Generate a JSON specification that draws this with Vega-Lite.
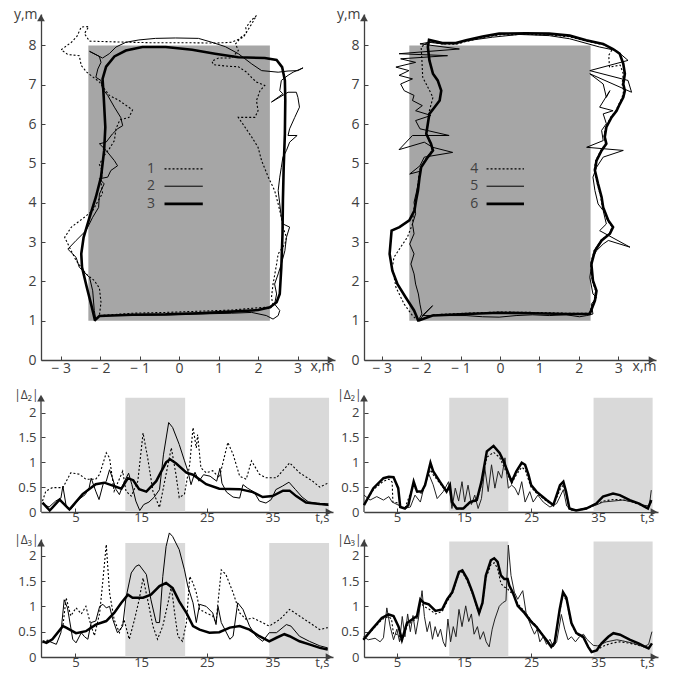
{
"$schema":"https://vega.github.io/schema/vega-lite/v6.json",
"padding":{"left":13,"top":7,"right":5,"bottom":5},
"background":"white",
"config":{"view":{"stroke":null},"font":"Open Sans",
"axis":{"grid":false,"domainColor":"#404040","domainWidth":1.3,"tickColor":"#404040","tickSize":-4,"tickWidth":1,"labelColor":"#404040","labelFont":"Open Sans","labelFontSize":14,"titleColor":"#404040","titleFont":"Open Sans","titleFontSize":14,"titleFontWeight":"normal","labelFlush":false,"labelOverlap":false},
"axisX":{"labelPadding":5},"axisY":{"labelPadding":9}},
"datasets":{
"tl":[
{"s":"1","x":-2.02,"y":1.13},{"s":"1","x":-1.18,"y":1.19},{"s":"1","x":-0.34,"y":1.21},{"s":"1","x":0.49,"y":1.24},{"s":"1","x":1.33,"y":1.27},{"s":"1","x":1.92,"y":1.32},{"s":"1","x":2.17,"y":1.34},{"s":"1","x":2.30,"y":1.30},{"s":"1","x":2.38,"y":1.41},{"s":"1","x":2.34,"y":1.59},{"s":"1","x":2.38,"y":1.93},{"s":"1","x":2.47,"y":2.44},{"s":"1","x":2.51,"y":2.70},{"s":"1","x":2.68,"y":2.95},{"s":"1","x":2.72,"y":3.12},{"s":"1","x":2.63,"y":3.38},{"s":"1","x":2.59,"y":3.63},{"s":"1","x":2.51,"y":3.97},{"s":"1","x":2.42,"y":4.31},{"s":"1","x":2.26,"y":4.65},{"s":"1","x":2.09,"y":5.07},{"s":"1","x":2.00,"y":5.41},{"s":"1","x":1.84,"y":5.67},{"s":"1","x":1.67,"y":5.92},{"s":"1","x":1.50,"y":6.17},{"s":"1","x":1.92,"y":6.17},{"s":"1","x":2.00,"y":6.34},{"s":"1","x":1.96,"y":6.60},{"s":"1","x":2.05,"y":6.85},{"s":"1","x":2.17,"y":6.98},{"s":"1","x":1.96,"y":7.07},{"s":"1","x":1.84,"y":7.18},{"s":"1","x":1.71,"y":7.32},{"s":"1","x":1.50,"y":7.46},{"s":"1","x":1.25,"y":7.47},{"s":"1","x":0.87,"y":7.51},{"s":"1","x":0.83,"y":7.60},{"s":"1","x":1.00,"y":7.68},{"s":"1","x":1.33,"y":7.68},{"s":"1","x":1.50,"y":7.87},{"s":"1","x":1.43,"y":8.04},{"s":"1","x":1.59,"y":8.23},{"s":"1","x":1.71,"y":8.30},{"s":"1","x":1.69,"y":8.45},{"s":"1","x":1.82,"y":8.63},{"s":"1","x":1.96,"y":8.76},{"s":"1","x":1.84,"y":8.55},{"s":"1","x":1.63,"y":8.21},{"s":"1","x":1.33,"y":8.08},{"s":"1","x":0.91,"y":8.06},{"s":"1","x":0.16,"y":8.07},{"s":"1","x":-0.76,"y":8.07},{"s":"1","x":-1.60,"y":8.09},{"s":"1","x":-2.27,"y":8.11},{"s":"1","x":-2.40,"y":8.30},{"s":"1","x":-2.29,"y":8.48},{"s":"1","x":-2.48,"y":8.47},{"s":"1","x":-2.59,"y":8.23},{"s":"1","x":-2.73,"y":8.08},{"s":"1","x":-2.99,"y":7.89},{"s":"1","x":-2.82,"y":7.77},{"s":"1","x":-2.53,"y":7.74},{"s":"1","x":-2.48,"y":7.49},{"s":"1","x":-2.34,"y":7.32},{"s":"1","x":-2.02,"y":7.07},{"s":"1","x":-1.77,"y":6.73},{"s":"1","x":-1.52,"y":6.60},{"s":"1","x":-1.18,"y":6.36},{"s":"1","x":-1.27,"y":6.17},{"s":"1","x":-1.50,"y":6.11},{"s":"1","x":-1.60,"y":5.88},{"s":"1","x":-1.64,"y":5.58},{"s":"1","x":-1.77,"y":5.37},{"s":"1","x":-1.90,"y":5.20},{"s":"1","x":-2.02,"y":4.97},{"s":"1","x":-1.94,"y":4.80},{"s":"1","x":-1.98,"y":4.52},{"s":"1","x":-1.94,"y":4.24},{"s":"1","x":-2.06,"y":4.04},{"s":"1","x":-2.19,"y":3.80},{"s":"1","x":-2.40,"y":3.63},{"s":"1","x":-2.73,"y":3.38},{"s":"1","x":-2.90,"y":3.12},{"s":"1","x":-2.78,"y":2.87},{"s":"1","x":-2.61,"y":2.53},{"s":"1","x":-2.36,"y":2.19},{"s":"1","x":-2.15,"y":2.02},{"s":"1","x":-2.02,"y":1.83},{"s":"1","x":-1.98,"y":1.47},{"s":"1","x":-2.02,"y":1.13},
{"s":"2","x":-2.11,"y":1.02},{"s":"2","x":-2.02,"y":1.13},{"s":"2","x":-0.34,"y":1.15},{"s":"2","x":1.33,"y":1.19},{"s":"2","x":1.84,"y":1.21},{"s":"2","x":2.21,"y":1.13},{"s":"2","x":2.38,"y":1.04},{"s":"2","x":2.51,"y":1.13},{"s":"2","x":2.55,"y":1.26},{"s":"2","x":2.42,"y":1.42},{"s":"2","x":2.47,"y":1.68},{"s":"2","x":2.42,"y":1.93},{"s":"2","x":2.51,"y":2.19},{"s":"2","x":2.59,"y":2.44},{"s":"2","x":2.68,"y":2.78},{"s":"2","x":2.72,"y":3.12},{"s":"2","x":2.80,"y":3.38},{"s":"2","x":2.63,"y":3.46},{"s":"2","x":2.59,"y":3.63},{"s":"2","x":2.55,"y":3.97},{"s":"2","x":2.51,"y":4.31},{"s":"2","x":2.55,"y":4.65},{"s":"2","x":2.59,"y":4.90},{"s":"2","x":2.63,"y":5.16},{"s":"2","x":2.72,"y":5.33},{"s":"2","x":2.80,"y":5.54},{"s":"2","x":2.99,"y":5.71},{"s":"2","x":2.76,"y":5.71},{"s":"2","x":2.80,"y":5.88},{"s":"2","x":2.93,"y":6.17},{"s":"2","x":3.05,"y":6.43},{"s":"2","x":3.01,"y":6.68},{"s":"2","x":2.97,"y":6.81},{"s":"2","x":2.76,"y":6.81},{"s":"2","x":2.34,"y":6.56},{"s":"2","x":2.63,"y":6.77},{"s":"2","x":2.55,"y":6.85},{"s":"2","x":2.59,"y":7.11},{"s":"2","x":2.76,"y":7.24},{"s":"2","x":2.89,"y":7.32},{"s":"2","x":3.14,"y":7.43},{"s":"2","x":3.01,"y":7.36},{"s":"2","x":2.76,"y":7.35},{"s":"2","x":2.51,"y":7.32},{"s":"2","x":2.09,"y":7.36},{"s":"2","x":1.84,"y":7.53},{"s":"2","x":1.50,"y":7.79},{"s":"2","x":1.17,"y":7.97},{"s":"2","x":0.83,"y":8.08},{"s":"2","x":0.49,"y":8.18},{"s":"2","x":-0.09,"y":8.19},{"s":"2","x":-0.60,"y":8.18},{"s":"2","x":-1.02,"y":8.14},{"s":"2","x":-1.35,"y":8.08},{"s":"2","x":-1.60,"y":7.96},{"s":"2","x":-1.77,"y":7.79},{"s":"2","x":-1.94,"y":7.68},{"s":"2","x":-2.27,"y":7.85},{"s":"2","x":-2.02,"y":7.72},{"s":"2","x":-1.98,"y":7.57},{"s":"2","x":-2.06,"y":7.40},{"s":"2","x":-2.11,"y":7.19},{"s":"2","x":-1.98,"y":7.11},{"s":"2","x":-1.94,"y":6.90},{"s":"2","x":-1.81,"y":6.73},{"s":"2","x":-1.64,"y":6.43},{"s":"2","x":-1.48,"y":6.17},{"s":"2","x":-1.43,"y":5.96},{"s":"2","x":-1.56,"y":5.88},{"s":"2","x":-1.69,"y":5.75},{"s":"2","x":-1.85,"y":5.54},{"s":"2","x":-2.02,"y":5.50},{"s":"2","x":-1.85,"y":5.33},{"s":"2","x":-1.64,"y":5.07},{"s":"2","x":-1.56,"y":4.94},{"s":"2","x":-1.73,"y":4.82},{"s":"2","x":-1.81,"y":4.65},{"s":"2","x":-2.02,"y":4.61},{"s":"2","x":-1.90,"y":4.48},{"s":"2","x":-2.02,"y":4.22},{"s":"2","x":-2.04,"y":3.88},{"s":"2","x":-2.19,"y":3.63},{"s":"2","x":-2.36,"y":3.29},{"s":"2","x":-2.61,"y":3.04},{"s":"2","x":-2.82,"y":2.82},{"s":"2","x":-2.61,"y":2.61},{"s":"2","x":-2.53,"y":2.36},{"s":"2","x":-2.27,"y":2.10},{"s":"2","x":-2.19,"y":1.76},{"s":"2","x":-2.15,"y":1.26},{"s":"2","x":-2.11,"y":1.02},
{"s":"3","x":-2.15,"y":1.00},{"s":"3","x":-2.02,"y":1.12},{"s":"3","x":-1.18,"y":1.15},{"s":"3","x":-0.34,"y":1.16},{"s":"3","x":0.49,"y":1.19},{"s":"3","x":1.33,"y":1.23},{"s":"3","x":2.00,"y":1.27},{"s":"3","x":2.30,"y":1.34},{"s":"3","x":2.47,"y":1.47},{"s":"3","x":2.55,"y":1.68},{"s":"3","x":2.59,"y":2.36},{"s":"3","x":2.62,"y":3.21},{"s":"3","x":2.63,"y":4.05},{"s":"3","x":2.65,"y":4.90},{"s":"3","x":2.68,"y":5.75},{"s":"3","x":2.69,"y":6.60},{"s":"3","x":2.68,"y":7.11},{"s":"3","x":2.61,"y":7.45},{"s":"3","x":2.47,"y":7.63},{"s":"3","x":2.17,"y":7.68},{"s":"3","x":1.50,"y":7.70},{"s":"3","x":0.91,"y":7.79},{"s":"3","x":0.33,"y":7.89},{"s":"3","x":-0.34,"y":7.96},{"s":"3","x":-0.93,"y":7.96},{"s":"3","x":-1.35,"y":7.87},{"s":"3","x":-1.64,"y":7.72},{"s":"3","x":-1.85,"y":7.46},{"s":"3","x":-1.94,"y":7.15},{"s":"3","x":-1.91,"y":6.68},{"s":"3","x":-1.87,"y":5.92},{"s":"3","x":-1.90,"y":5.33},{"s":"3","x":-1.98,"y":4.65},{"s":"3","x":-2.11,"y":4.14},{"s":"3","x":-2.27,"y":3.63},{"s":"3","x":-2.42,"y":3.12},{"s":"3","x":-2.48,"y":2.70},{"s":"3","x":-2.46,"y":2.36},{"s":"3","x":-2.34,"y":1.85},{"s":"3","x":-2.21,"y":1.34},{"s":"3","x":-2.13,"y":1.00}
],
"tr":[
{"s":"4","x":-2.08,"y":1.00},{"s":"4","x":-1.71,"y":1.15},{"s":"4","x":-0.86,"y":1.19},{"s":"4","x":-0.02,"y":1.22},{"s":"4","x":0.83,"y":1.21},{"s":"4","x":1.68,"y":1.19},{"s":"4","x":2.26,"y":1.19},{"s":"4","x":2.39,"y":1.51},{"s":"4","x":2.43,"y":1.76},{"s":"4","x":2.34,"y":2.02},{"s":"4","x":2.30,"y":2.44},{"s":"4","x":2.39,"y":2.78},{"s":"4","x":2.56,"y":3.04},{"s":"4","x":2.77,"y":3.21},{"s":"4","x":2.85,"y":3.38},{"s":"4","x":2.73,"y":3.55},{"s":"4","x":2.60,"y":3.88},{"s":"4","x":2.56,"y":4.14},{"s":"4","x":2.47,"y":4.48},{"s":"4","x":2.39,"y":4.82},{"s":"4","x":2.43,"y":5.07},{"s":"4","x":2.56,"y":5.33},{"s":"4","x":2.68,"y":5.50},{"s":"4","x":2.64,"y":5.67},{"s":"4","x":2.68,"y":5.92},{"s":"4","x":2.81,"y":6.17},{"s":"4","x":2.94,"y":6.34},{"s":"4","x":3.02,"y":6.51},{"s":"4","x":3.10,"y":6.68},{"s":"4","x":3.14,"y":6.85},{"s":"4","x":3.10,"y":7.02},{"s":"4","x":3.13,"y":7.28},{"s":"4","x":3.05,"y":7.50},{"s":"4","x":2.78,"y":7.45},{"s":"4","x":2.76,"y":7.75},{"s":"4","x":2.85,"y":7.90},{"s":"4","x":2.62,"y":8.02},{"s":"4","x":2.19,"y":8.11},{"s":"4","x":1.77,"y":8.22},{"s":"4","x":1.25,"y":8.27},{"s":"4","x":0.66,"y":8.28},{"s":"4","x":-0.02,"y":8.27},{"s":"4","x":-0.44,"y":8.20},{"s":"4","x":-0.86,"y":8.10},{"s":"4","x":-1.12,"y":8.03},{"s":"4","x":-1.46,"y":8.04},{"s":"4","x":-1.80,"y":8.10},{"s":"4","x":-2.00,"y":7.96},{"s":"4","x":-1.98,"y":7.62},{"s":"4","x":-1.96,"y":7.19},{"s":"4","x":-1.83,"y":6.94},{"s":"4","x":-1.70,"y":6.68},{"s":"4","x":-1.79,"y":6.34},{"s":"4","x":-1.83,"y":6.01},{"s":"4","x":-1.87,"y":5.75},{"s":"4","x":-1.77,"y":5.50},{"s":"4","x":-1.72,"y":5.33},{"s":"4","x":-1.85,"y":5.16},{"s":"4","x":-2.02,"y":4.90},{"s":"4","x":-2.06,"y":4.65},{"s":"4","x":-2.10,"y":4.31},{"s":"4","x":-2.15,"y":4.05},{"s":"4","x":-2.19,"y":3.80},{"s":"4","x":-2.22,"y":3.46},{"s":"4","x":-2.35,"y":3.12},{"s":"4","x":-2.52,"y":2.87},{"s":"4","x":-2.69,"y":2.61},{"s":"4","x":-2.73,"y":2.36},{"s":"4","x":-2.64,"y":1.85},{"s":"4","x":-2.43,"y":1.42},{"s":"4","x":-2.22,"y":1.13},{"s":"4","x":-2.08,"y":1.00},
{"s":"5","x":-2.09,"y":0.98},{"s":"5","x":-1.71,"y":1.38},{"s":"5","x":-1.97,"y":1.13},{"s":"5","x":-1.54,"y":1.13},{"s":"5","x":-0.86,"y":1.13},{"s":"5","x":-0.44,"y":1.10},{"s":"5","x":-0.02,"y":1.09},{"s":"5","x":0.41,"y":1.13},{"s":"5","x":0.83,"y":1.15},{"s":"5","x":1.25,"y":1.13},{"s":"5","x":1.68,"y":1.15},{"s":"5","x":2.02,"y":1.10},{"s":"5","x":2.20,"y":1.13},{"s":"5","x":2.36,"y":1.17},{"s":"5","x":2.32,"y":1.42},{"s":"5","x":2.45,"y":1.59},{"s":"5","x":2.36,"y":1.68},{"s":"5","x":2.28,"y":2.10},{"s":"5","x":2.32,"y":2.36},{"s":"5","x":2.36,"y":2.61},{"s":"5","x":2.45,"y":2.78},{"s":"5","x":2.62,"y":2.95},{"s":"5","x":2.75,"y":3.04},{"s":"5","x":3.30,"y":2.87},{"s":"5","x":2.53,"y":3.29},{"s":"5","x":2.70,"y":3.46},{"s":"5","x":2.62,"y":3.80},{"s":"5","x":2.49,"y":3.97},{"s":"5","x":2.41,"y":4.31},{"s":"5","x":2.36,"y":4.65},{"s":"5","x":2.45,"y":4.90},{"s":"5","x":2.62,"y":5.16},{"s":"5","x":3.13,"y":5.33},{"s":"5","x":2.20,"y":5.41},{"s":"5","x":2.62,"y":5.58},{"s":"5","x":2.58,"y":5.84},{"s":"5","x":2.70,"y":6.01},{"s":"5","x":2.62,"y":6.26},{"s":"5","x":2.87,"y":6.34},{"s":"5","x":2.53,"y":6.43},{"s":"5","x":2.79,"y":6.85},{"s":"5","x":2.70,"y":6.68},{"s":"5","x":2.62,"y":7.02},{"s":"5","x":2.28,"y":7.28},{"s":"5","x":3.34,"y":6.81},{"s":"5","x":3.25,"y":7.11},{"s":"5","x":2.28,"y":7.36},{"s":"5","x":3.25,"y":7.62},{"s":"5","x":2.96,"y":7.87},{"s":"5","x":2.53,"y":7.96},{"s":"5","x":1.77,"y":8.17},{"s":"5","x":1.25,"y":8.25},{"s":"5","x":0.49,"y":8.28},{"s":"5","x":-0.19,"y":8.21},{"s":"5","x":-0.69,"y":8.14},{"s":"5","x":-1.03,"y":8.08},{"s":"5","x":-1.46,"y":8.04},{"s":"5","x":-1.80,"y":8.08},{"s":"5","x":-2.03,"y":8.04},{"s":"5","x":-1.03,"y":7.91},{"s":"5","x":-2.56,"y":7.79},{"s":"5","x":-1.33,"y":7.74},{"s":"5","x":-2.52,"y":7.66},{"s":"5","x":-2.14,"y":7.57},{"s":"5","x":-2.64,"y":7.45},{"s":"5","x":-2.31,"y":7.36},{"s":"5","x":-2.56,"y":7.24},{"s":"5","x":-2.22,"y":7.15},{"s":"5","x":-2.52,"y":7.02},{"s":"5","x":-2.43,"y":6.85},{"s":"5","x":-2.18,"y":6.73},{"s":"5","x":-2.22,"y":6.60},{"s":"5","x":-1.97,"y":6.47},{"s":"5","x":-2.14,"y":6.34},{"s":"5","x":-1.75,"y":6.22},{"s":"5","x":-2.14,"y":6.09},{"s":"5","x":-2.03,"y":5.88},{"s":"5","x":-1.29,"y":5.71},{"s":"5","x":-2.22,"y":5.71},{"s":"5","x":-2.56,"y":5.35},{"s":"5","x":-1.92,"y":5.54},{"s":"5","x":-1.71,"y":5.41},{"s":"5","x":-1.20,"y":5.28},{"s":"5","x":-1.92,"y":5.16},{"s":"5","x":-2.03,"y":4.94},{"s":"5","x":-2.29,"y":4.73},{"s":"5","x":-2.03,"y":4.80},{"s":"5","x":-2.07,"y":4.52},{"s":"5","x":-2.12,"y":4.27},{"s":"5","x":-2.18,"y":4.01},{"s":"5","x":-2.14,"y":3.72},{"s":"5","x":-2.22,"y":3.46},{"s":"5","x":-2.18,"y":3.21},{"s":"5","x":-2.29,"y":2.95},{"s":"5","x":-2.18,"y":2.70},{"s":"5","x":-2.26,"y":2.44},{"s":"5","x":-2.18,"y":2.19},{"s":"5","x":-2.14,"y":1.93},{"s":"5","x":-2.07,"y":1.68},{"s":"5","x":-2.03,"y":1.42},{"s":"5","x":-1.98,"y":1.17},{"s":"5","x":-2.09,"y":0.98},
{"s":"6","x":-2.08,"y":1.00},{"s":"6","x":-1.71,"y":1.13},{"s":"6","x":-0.86,"y":1.17},{"s":"6","x":-0.02,"y":1.20},{"s":"6","x":0.83,"y":1.19},{"s":"6","x":1.68,"y":1.17},{"s":"6","x":2.28,"y":1.17},{"s":"6","x":2.41,"y":1.51},{"s":"6","x":2.45,"y":1.76},{"s":"6","x":2.36,"y":2.02},{"s":"6","x":2.32,"y":2.44},{"s":"6","x":2.41,"y":2.78},{"s":"6","x":2.58,"y":3.04},{"s":"6","x":2.79,"y":3.21},{"s":"6","x":2.87,"y":3.38},{"s":"6","x":2.75,"y":3.55},{"s":"6","x":2.62,"y":3.88},{"s":"6","x":2.58,"y":4.14},{"s":"6","x":2.49,"y":4.48},{"s":"6","x":2.41,"y":4.82},{"s":"6","x":2.45,"y":5.07},{"s":"6","x":2.58,"y":5.33},{"s":"6","x":2.70,"y":5.50},{"s":"6","x":2.66,"y":5.67},{"s":"6","x":2.70,"y":5.92},{"s":"6","x":2.83,"y":6.17},{"s":"6","x":2.96,"y":6.34},{"s":"6","x":3.04,"y":6.51},{"s":"6","x":3.13,"y":6.68},{"s":"6","x":3.17,"y":6.85},{"s":"6","x":3.13,"y":7.02},{"s":"6","x":3.17,"y":7.28},{"s":"6","x":3.13,"y":7.53},{"s":"6","x":3.04,"y":7.79},{"s":"6","x":2.87,"y":7.91},{"s":"6","x":2.62,"y":8.04},{"s":"6","x":2.19,"y":8.13},{"s":"6","x":1.77,"y":8.25},{"s":"6","x":1.25,"y":8.30},{"s":"6","x":0.66,"y":8.31},{"s":"6","x":-0.02,"y":8.30},{"s":"6","x":-0.44,"y":8.23},{"s":"6","x":-0.86,"y":8.13},{"s":"6","x":-1.12,"y":8.06},{"s":"6","x":-1.46,"y":8.06},{"s":"6","x":-1.80,"y":8.14},{"s":"6","x":-1.83,"y":7.96},{"s":"6","x":-1.79,"y":7.62},{"s":"6","x":-1.70,"y":7.28},{"s":"6","x":-1.58,"y":7.11},{"s":"6","x":-1.49,"y":6.85},{"s":"6","x":-1.53,"y":6.60},{"s":"6","x":-1.66,"y":6.43},{"s":"6","x":-1.79,"y":6.26},{"s":"6","x":-1.83,"y":6.01},{"s":"6","x":-1.87,"y":5.75},{"s":"6","x":-1.75,"y":5.50},{"s":"6","x":-1.70,"y":5.33},{"s":"6","x":-1.83,"y":5.16},{"s":"6","x":-2.00,"y":4.90},{"s":"6","x":-2.04,"y":4.65},{"s":"6","x":-2.08,"y":4.31},{"s":"6","x":-2.13,"y":4.05},{"s":"6","x":-2.17,"y":3.80},{"s":"6","x":-2.30,"y":3.55},{"s":"6","x":-2.55,"y":3.38},{"s":"6","x":-2.75,"y":3.29},{"s":"6","x":-2.80,"y":2.70},{"s":"6","x":-2.73,"y":2.27},{"s":"6","x":-2.60,"y":1.93},{"s":"6","x":-2.39,"y":1.59},{"s":"6","x":-2.18,"y":1.26},{"s":"6","x":-2.07,"y":1.00}
],
"d2l":[
{"s":"d","t":0,"v":0.22},{"s":"d","t":0.5,"v":0.42},{"s":"d","t":1.5,"v":0.49},{"s":"d","t":3.1,"v":0.49},{"s":"d","t":4.3,"v":0.79},{"s":"d","t":5.6,"v":0.76},{"s":"d","t":6.6,"v":0.66},{"s":"d","t":8.1,"v":0.66},{"s":"d","t":8.7,"v":0.76},{"s":"d","t":9.7,"v":1.19},{"s":"d","t":10.2,"v":1.09},{"s":"d","t":10.9,"v":0.42},{"s":"d","t":12.2,"v":0.82},{"s":"d","t":12.7,"v":0.42},{"s":"d","t":13.5,"v":0.32},{"s":"d","t":14.5,"v":0.62},{"s":"d","t":15.3,"v":1.59},{"s":"d","t":16.0,"v":1.09},{"s":"d","t":16.8,"v":0.42},{"s":"d","t":17.8,"v":0.09},{"s":"d","t":18.8,"v":0.76},{"s":"d","t":19.6,"v":1.29},{"s":"d","t":20.3,"v":0.76},{"s":"d","t":20.8,"v":0.29},{"s":"d","t":21.6,"v":0.36},{"s":"d","t":22.4,"v":0.96},{"s":"d","t":22.9,"v":1.70},{"s":"d","t":23.4,"v":1.29},{"s":"d","t":23.6,"v":1.56},{"s":"d","t":24.1,"v":0.89},{"s":"d","t":24.9,"v":0.79},{"s":"d","t":25.9,"v":0.83},{"s":"d","t":26.9,"v":0.69},{"s":"d","t":28.2,"v":1.40},{"s":"d","t":29.0,"v":1.16},{"s":"d","t":30.0,"v":0.72},{"s":"d","t":31.0,"v":0.66},{"s":"d","t":31.8,"v":1.03},{"s":"d","t":33.0,"v":0.76},{"s":"d","t":34.0,"v":0.69},{"s":"d","t":35.6,"v":0.69},{"s":"d","t":37.6,"v":0.99},{"s":"d","t":39.1,"v":0.79},{"s":"d","t":41.1,"v":0.62},{"s":"d","t":42.2,"v":0.50},{"s":"d","t":43.4,"v":0.58},
{"s":"n","t":0,"v":0.16},{"s":"n","t":1.0,"v":0.10},{"s":"n","t":2.0,"v":0.22},{"s":"n","t":2.8,"v":0.28},{"s":"n","t":3.1,"v":0.52},{"s":"n","t":3.6,"v":0.12},{"s":"n","t":4.3,"v":0.05},{"s":"n","t":5.5,"v":0.25},{"s":"n","t":6.5,"v":0.35},{"s":"n","t":7.1,"v":0.49},{"s":"n","t":7.4,"v":0.68},{"s":"n","t":8.1,"v":0.42},{"s":"n","t":8.6,"v":0.25},{"s":"n","t":9.2,"v":0.55},{"s":"n","t":9.7,"v":0.62},{"s":"n","t":10.2,"v":0.85},{"s":"n","t":10.6,"v":0.70},{"s":"n","t":11.2,"v":0.45},{"s":"n","t":11.7,"v":0.35},{"s":"n","t":12.4,"v":0.60},{"s":"n","t":13.1,"v":0.78},{"s":"n","t":13.6,"v":0.55},{"s":"n","t":14.2,"v":0.22},{"s":"n","t":14.8,"v":0.03},{"s":"n","t":15.4,"v":0.15},{"s":"n","t":16.2,"v":0.20},{"s":"n","t":17.0,"v":0.30},{"s":"n","t":17.8,"v":0.45},{"s":"n","t":18.4,"v":1.15},{"s":"n","t":19.2,"v":1.80},{"s":"n","t":19.8,"v":1.70},{"s":"n","t":20.8,"v":1.36},{"s":"n","t":21.6,"v":1.03},{"s":"n","t":22.1,"v":0.83},{"s":"n","t":22.6,"v":0.55},{"s":"n","t":23.2,"v":0.80},{"s":"n","t":23.8,"v":0.62},{"s":"n","t":24.5,"v":0.75},{"s":"n","t":25.5,"v":0.72},{"s":"n","t":26.5,"v":0.62},{"s":"n","t":27.0,"v":0.88},{"s":"n","t":27.3,"v":0.58},{"s":"n","t":28.0,"v":0.40},{"s":"n","t":29.0,"v":0.30},{"s":"n","t":30.0,"v":0.28},{"s":"n","t":30.5,"v":0.55},{"s":"n","t":31.2,"v":0.48},{"s":"n","t":32.2,"v":0.40},{"s":"n","t":33.0,"v":0.22},{"s":"n","t":34.0,"v":0.18},{"s":"n","t":34.8,"v":0.25},{"s":"n","t":35.5,"v":0.45},{"s":"n","t":36.5,"v":0.52},{"s":"n","t":37.5,"v":0.60},{"s":"n","t":38.5,"v":0.45},{"s":"n","t":39.5,"v":0.30},{"s":"n","t":40.5,"v":0.20},{"s":"n","t":41.5,"v":0.18},{"s":"n","t":42.5,"v":0.15},{"s":"n","t":43.5,"v":0.13},
{"s":"k","t":0,"v":0.19},{"s":"k","t":1.1,"v":0.03},{"s":"k","t":2.6,"v":0.25},{"s":"k","t":4.1,"v":0.05},{"s":"k","t":6.1,"v":0.36},{"s":"k","t":8.1,"v":0.56},{"s":"k","t":9.4,"v":0.59},{"s":"k","t":10.7,"v":0.53},{"s":"k","t":12.0,"v":0.47},{"s":"k","t":13.0,"v":0.68},{"s":"k","t":13.8,"v":0.64},{"s":"k","t":14.7,"v":0.46},{"s":"k","t":15.8,"v":0.41},{"s":"k","t":17.3,"v":0.62},{"s":"k","t":18.8,"v":1.00},{"s":"k","t":19.4,"v":1.06},{"s":"k","t":20.3,"v":0.98},{"s":"k","t":21.9,"v":0.79},{"s":"k","t":22.9,"v":0.75},{"s":"k","t":24.9,"v":0.56},{"s":"k","t":26.9,"v":0.47},{"s":"k","t":30.0,"v":0.46},{"s":"k","t":32.0,"v":0.40},{"s":"k","t":33.5,"v":0.30},{"s":"k","t":35.0,"v":0.32},{"s":"k","t":36.6,"v":0.43},{"s":"k","t":37.6,"v":0.43},{"s":"k","t":38.6,"v":0.32},{"s":"k","t":40.1,"v":0.19},{"s":"k","t":42.2,"v":0.16},{"s":"k","t":43.5,"v":0.15}
],
"d3l":[
{"s":"d","t":0,"v":0.31},{"s":"d","t":1.5,"v":0.35},{"s":"d","t":3.1,"v":0.61},{"s":"d","t":3.6,"v":1.17},{"s":"d","t":4.3,"v":0.81},{"s":"d","t":5.1,"v":0.97},{"s":"d","t":5.9,"v":0.85},{"s":"d","t":6.6,"v":1.00},{"s":"d","t":7.4,"v":0.61},{"s":"d","t":7.9,"v":0.42},{"s":"d","t":8.7,"v":0.87},{"s":"d","t":9.2,"v":1.53},{"s":"d","t":9.7,"v":2.22},{"s":"d","t":10.2,"v":1.27},{"s":"d","t":10.9,"v":0.74},{"s":"d","t":11.7,"v":0.48},{"s":"d","t":12.4,"v":0.74},{"s":"d","t":13.2,"v":0.35},{"s":"d","t":14.0,"v":0.74},{"s":"d","t":14.7,"v":1.13},{"s":"d","t":15.3,"v":1.56},{"s":"d","t":16.0,"v":1.13},{"s":"d","t":16.8,"v":0.61},{"s":"d","t":17.5,"v":0.35},{"s":"d","t":18.3,"v":0.61},{"s":"d","t":19.1,"v":1.07},{"s":"d","t":19.6,"v":1.40},{"s":"d","t":20.1,"v":0.87},{"s":"d","t":20.6,"v":0.41},{"s":"d","t":21.3,"v":0.31},{"s":"d","t":21.9,"v":0.68},{"s":"d","t":22.4,"v":1.59},{"s":"d","t":22.9,"v":1.46},{"s":"d","t":23.4,"v":1.27},{"s":"d","t":23.9,"v":0.94},{"s":"d","t":24.9,"v":0.87},{"s":"d","t":25.9,"v":0.81},{"s":"d","t":26.4,"v":0.68},{"s":"d","t":27.2,"v":1.72},{"s":"d","t":27.9,"v":1.63},{"s":"d","t":29.0,"v":1.27},{"s":"d","t":30.0,"v":0.87},{"s":"d","t":31.0,"v":0.74},{"s":"d","t":32.0,"v":0.77},{"s":"d","t":33.0,"v":0.71},{"s":"d","t":34.5,"v":0.61},{"s":"d","t":36.1,"v":0.74},{"s":"d","t":37.6,"v":0.94},{"s":"d","t":39.1,"v":0.81},{"s":"d","t":40.6,"v":0.68},{"s":"d","t":42.2,"v":0.54},{"s":"d","t":43.4,"v":0.58},
{"s":"n","t":0,"v":0.28},{"s":"n","t":1.0,"v":0.31},{"s":"n","t":2.1,"v":0.25},{"s":"n","t":2.8,"v":0.48},{"s":"n","t":3.3,"v":1.13},{"s":"n","t":3.8,"v":0.97},{"s":"n","t":4.6,"v":0.35},{"s":"n","t":5.1,"v":0.28},{"s":"n","t":5.9,"v":0.48},{"s":"n","t":6.4,"v":0.40},{"s":"n","t":6.9,"v":0.35},{"s":"n","t":7.4,"v":0.68},{"s":"n","t":8.1,"v":0.71},{"s":"n","t":8.7,"v":1.00},{"s":"n","t":9.2,"v":1.04},{"s":"n","t":9.7,"v":0.97},{"s":"n","t":10.2,"v":1.00},{"s":"n","t":10.7,"v":0.74},{"s":"n","t":11.4,"v":0.48},{"s":"n","t":12.2,"v":0.61},{"s":"n","t":12.7,"v":1.17},{"s":"n","t":13.5,"v":1.66},{"s":"n","t":14.2,"v":1.79},{"s":"n","t":14.7,"v":1.82},{"s":"n","t":15.8,"v":1.63},{"s":"n","t":16.5,"v":1.13},{"s":"n","t":17.3,"v":0.68},{"s":"n","t":17.8,"v":0.68},{"s":"n","t":18.3,"v":1.59},{"s":"n","t":18.8,"v":2.18},{"s":"n","t":19.3,"v":2.45},{"s":"n","t":19.8,"v":2.38},{"s":"n","t":20.8,"v":2.12},{"s":"n","t":21.6,"v":1.72},{"s":"n","t":22.1,"v":1.40},{"s":"n","t":22.9,"v":1.07},{"s":"n","t":23.4,"v":0.68},{"s":"n","t":23.9,"v":1.04},{"s":"n","t":24.9,"v":1.00},{"s":"n","t":25.9,"v":0.87},{"s":"n","t":26.4,"v":0.64},{"s":"n","t":26.7,"v":1.00},{"s":"n","t":27.2,"v":0.68},{"s":"n","t":28.5,"v":0.35},{"s":"n","t":29.0,"v":0.41},{"s":"n","t":29.7,"v":1.07},{"s":"n","t":30.5,"v":0.94},{"s":"n","t":31.5,"v":0.61},{"s":"n","t":32.5,"v":0.41},{"s":"n","t":33.5,"v":0.31},{"s":"n","t":34.5,"v":0.48},{"s":"n","t":35.6,"v":0.48},{"s":"n","t":37.1,"v":0.64},{"s":"n","t":37.8,"v":0.61},{"s":"n","t":39.1,"v":0.41},{"s":"n","t":40.6,"v":0.31},{"s":"n","t":42.2,"v":0.22},{"s":"n","t":43.4,"v":0.18},
{"s":"k","t":0,"v":0.31},{"s":"k","t":0.6,"v":0.28},{"s":"k","t":1.5,"v":0.35},{"s":"k","t":3.1,"v":0.61},{"s":"k","t":3.6,"v":0.58},{"s":"k","t":5.1,"v":0.47},{"s":"k","t":6.6,"v":0.51},{"s":"k","t":8.1,"v":0.64},{"s":"k","t":9.7,"v":0.71},{"s":"k","t":10.9,"v":0.87},{"s":"k","t":12.0,"v":1.07},{"s":"k","t":13.0,"v":1.23},{"s":"k","t":13.7,"v":1.17},{"s":"k","t":15.3,"v":1.17},{"s":"k","t":16.5,"v":1.23},{"s":"k","t":17.8,"v":1.40},{"s":"k","t":18.8,"v":1.46},{"s":"k","t":19.8,"v":1.36},{"s":"k","t":20.8,"v":1.10},{"s":"k","t":21.9,"v":0.87},{"s":"k","t":22.9,"v":0.61},{"s":"k","t":23.9,"v":0.54},{"s":"k","t":25.4,"v":0.48},{"s":"k","t":26.9,"v":0.49},{"s":"k","t":28.5,"v":0.58},{"s":"k","t":30.0,"v":0.61},{"s":"k","t":31.5,"v":0.54},{"s":"k","t":33.0,"v":0.41},{"s":"k","t":34.5,"v":0.31},{"s":"k","t":35.6,"v":0.38},{"s":"k","t":36.8,"v":0.45},{"s":"k","t":37.6,"v":0.41},{"s":"k","t":39.1,"v":0.31},{"s":"k","t":40.6,"v":0.25},{"s":"k","t":42.2,"v":0.18},{"s":"k","t":43.4,"v":0.15}
],
"d2r":[
{"s":"d","t":0.1,"v":0.14},{"s":"d","t":1.5,"v":0.45},{"s":"d","t":3,"v":0.62},{"s":"d","t":3.8,"v":0.66},{"s":"d","t":4.3,"v":0.6},{"s":"d","t":4.4,"v":0.2},{"s":"d","t":5.2,"v":0.18},{"s":"d","t":5.5,"v":0.1},{"s":"d","t":6.2,"v":0.08},{"s":"d","t":7.5,"v":0.55},{"s":"d","t":8.0,"v":0.4},{"s":"d","t":8.7,"v":0.38},{"s":"d","t":10,"v":0.85},{"s":"d","t":10.4,"v":0.75},{"s":"d","t":11.4,"v":0.58},{"s":"d","t":12.4,"v":0.4},{"s":"d","t":12.9,"v":0.5},{"s":"d","t":13.2,"v":0.2},{"s":"d","t":13.9,"v":0.06},{"s":"d","t":14.9,"v":0.06},{"s":"d","t":15.9,"v":0.18},{"s":"d","t":16.9,"v":0.22},{"s":"d","t":17.6,"v":0.55},{"s":"d","t":18.4,"v":1.1},{"s":"d","t":19.4,"v":1.2},{"s":"d","t":20.3,"v":1.1},{"s":"d","t":20.8,"v":0.95},{"s":"d","t":21.3,"v":0.8},{"s":"d","t":22.1,"v":0.58},{"s":"d","t":22.8,"v":0.75},{"s":"d","t":23.6,"v":0.9},{"s":"d","t":24.1,"v":0.85},{"s":"d","t":24.6,"v":0.65},{"s":"d","t":25.0,"v":0.5},{"s":"d","t":25.8,"v":0.38},{"s":"d","t":27.3,"v":0.22},{"s":"d","t":28.3,"v":0.12},{"s":"d","t":29.3,"v":0.45},{"s":"d","t":29.8,"v":0.55},{"s":"d","t":30.2,"v":0.38},{"s":"d","t":30.7,"v":0.06},{"s":"d","t":31.7,"v":0.03},{"s":"d","t":33.2,"v":0.06},{"s":"d","t":34.7,"v":0.15},{"s":"d","t":35.7,"v":0.22},{"s":"d","t":37.2,"v":0.25},{"s":"d","t":38.2,"v":0.25},{"s":"d","t":39.7,"v":0.22},{"s":"d","t":41.1,"v":0.15},{"s":"d","t":42.4,"v":0.07},{"s":"d","t":42.9,"v":0.2},
{"s":"n","t":0.1,"v":0.34},{"s":"n","t":1,"v":0.24},{"s":"n","t":2,"v":0.31},{"s":"n","t":3,"v":0.24},{"s":"n","t":3.8,"v":0.31},{"s":"n","t":4.3,"v":0.2},{"s":"n","t":5.2,"v":0.14},{"s":"n","t":6,"v":0.07},{"s":"n","t":7,"v":0.1},{"s":"n","t":7.7,"v":0.34},{"s":"n","t":8.5,"v":0.2},{"s":"n","t":9,"v":0.48},{"s":"n","t":9.7,"v":0.78},{"s":"n","t":10.4,"v":0.55},{"s":"n","t":11,"v":0.27},{"s":"n","t":11.9,"v":0.41},{"s":"n","t":12.7,"v":0.61},{"s":"n","t":13.2,"v":0.07},{"s":"n","t":13.7,"v":0.48},{"s":"n","t":14.2,"v":0.22},{"s":"n","t":14.7,"v":0.61},{"s":"n","t":15.1,"v":0.2},{"s":"n","t":15.6,"v":0.54},{"s":"n","t":16.1,"v":0.15},{"s":"n","t":16.6,"v":0.34},{"s":"n","t":17.1,"v":0.07},{"s":"n","t":17.6,"v":0.27},{"s":"n","t":18.1,"v":0.88},{"s":"n","t":18.6,"v":0.41},{"s":"n","t":19.1,"v":0.95},{"s":"n","t":19.6,"v":0.48},{"s":"n","t":20.1,"v":0.82},{"s":"n","t":20.6,"v":0.68},{"s":"n","t":21.1,"v":1.09},{"s":"n","t":21.6,"v":0.48},{"s":"n","t":22.1,"v":0.54},{"s":"n","t":22.6,"v":0.48},{"s":"n","t":23.1,"v":0.34},{"s":"n","t":23.6,"v":0.61},{"s":"n","t":24.1,"v":0.2},{"s":"n","t":24.8,"v":0.41},{"s":"n","t":25.3,"v":0.2},{"s":"n","t":26.0,"v":0.34},{"s":"n","t":26.8,"v":0.2},{"s":"n","t":27.8,"v":0.1},{"s":"n","t":28.8,"v":0.17},{"s":"n","t":29.8,"v":0.45},{"s":"n","t":30.3,"v":0.12},{"s":"n","t":31,"v":0.03},{"s":"n","t":32.2,"v":0.05},{"s":"n","t":33.7,"v":0.1},{"s":"n","t":34.7,"v":0.14},{"s":"n","t":35.7,"v":0.2},{"s":"n","t":37.2,"v":0.22},{"s":"n","t":38.7,"v":0.24},{"s":"n","t":40.1,"v":0.2},{"s":"n","t":41.6,"v":0.14},{"s":"n","t":42.6,"v":0.12},{"s":"n","t":42.9,"v":0.44},
{"s":"k","t":0.1,"v":0.14},{"s":"k","t":1.5,"v":0.48},{"s":"k","t":3,"v":0.68},{"s":"k","t":3.8,"v":0.71},{"s":"k","t":4.5,"v":0.7},{"s":"k","t":5.2,"v":0.48},{"s":"k","t":5.5,"v":0.1},{"s":"k","t":6.2,"v":0.07},{"s":"k","t":6.7,"v":0.14},{"s":"k","t":7.5,"v":0.61},{"s":"k","t":8.0,"v":0.41},{"s":"k","t":8.7,"v":0.41},{"s":"k","t":9.2,"v":0.54},{"s":"k","t":10,"v":0.99},{"s":"k","t":10.4,"v":0.82},{"s":"k","t":11.4,"v":0.61},{"s":"k","t":12.4,"v":0.41},{"s":"k","t":12.9,"v":0.54},{"s":"k","t":13.2,"v":0.2},{"s":"k","t":13.9,"v":0.07},{"s":"k","t":14.9,"v":0.07},{"s":"k","t":15.9,"v":0.2},{"s":"k","t":16.9,"v":0.24},{"s":"k","t":17.6,"v":0.61},{"s":"k","t":18.4,"v":1.22},{"s":"k","t":19.4,"v":1.33},{"s":"k","t":20.3,"v":1.19},{"s":"k","t":20.8,"v":1.05},{"s":"k","t":21.3,"v":0.88},{"s":"k","t":22.1,"v":0.61},{"s":"k","t":22.8,"v":0.82},{"s":"k","t":23.6,"v":0.99},{"s":"k","t":24.1,"v":0.95},{"s":"k","t":24.6,"v":0.75},{"s":"k","t":25.0,"v":0.54},{"s":"k","t":25.8,"v":0.41},{"s":"k","t":27.3,"v":0.24},{"s":"k","t":28.3,"v":0.14},{"s":"k","t":29.3,"v":0.54},{"s":"k","t":29.8,"v":0.61},{"s":"k","t":30.2,"v":0.41},{"s":"k","t":30.7,"v":0.07},{"s":"k","t":31.7,"v":0.03},{"s":"k","t":33.2,"v":0.07},{"s":"k","t":34.7,"v":0.17},{"s":"k","t":35.7,"v":0.31},{"s":"k","t":37.2,"v":0.37},{"s":"k","t":38.2,"v":0.34},{"s":"k","t":39.7,"v":0.24},{"s":"k","t":41.1,"v":0.17},{"s":"k","t":42.4,"v":0.07},{"s":"k","t":42.9,"v":0.24}
],
"d3r":[
{"s":"d","t":0,"v":0.34},{"s":"d","t":1.25,"v":0.52},{"s":"d","t":2.75,"v":0.74},{"s":"d","t":3.75,"v":0.8},{"s":"d","t":4.2,"v":0.75},{"s":"d","t":4.5,"v":0.45},{"s":"d","t":5.25,"v":0.45},{"s":"d","t":5.75,"v":0.3},{"s":"d","t":6.5,"v":0.62},{"s":"d","t":7.25,"v":0.7},{"s":"d","t":8,"v":0.76},{"s":"d","t":8.5,"v":1.08},{"s":"d","t":9,"v":1.0},{"s":"d","t":9.75,"v":0.95},{"s":"d","t":10.75,"v":0.85},{"s":"d","t":11.75,"v":0.9},{"s":"d","t":12.5,"v":1.1},{"s":"d","t":13.25,"v":1.25},{"s":"d","t":14.25,"v":1.65},{"s":"d","t":14.75,"v":1.68},{"s":"d","t":15.5,"v":1.5},{"s":"d","t":16.25,"v":1.25},{"s":"d","t":17.25,"v":0.85},{"s":"d","t":17.75,"v":1.03},{"s":"d","t":18.25,"v":1.55},{"s":"d","t":19,"v":1.82},{"s":"d","t":19.5,"v":1.86},{"s":"d","t":20,"v":1.75},{"s":"d","t":20.5,"v":1.45},{"s":"d","t":21,"v":1.38},{"s":"d","t":21.5,"v":1.35},{"s":"d","t":21.75,"v":1.3},{"s":"d","t":22.25,"v":1.25},{"s":"d","t":23,"v":1.05},{"s":"d","t":24,"v":0.9},{"s":"d","t":25,"v":0.72},{"s":"d","t":25.75,"v":0.62},{"s":"d","t":26.5,"v":0.48},{"s":"d","t":27.25,"v":0.35},{"s":"d","t":28,"v":0.22},{"s":"d","t":28.5,"v":0.3},{"s":"d","t":29.25,"v":0.9},{"s":"d","t":29.75,"v":1.22},{"s":"d","t":30.25,"v":1.12},{"s":"d","t":31,"v":0.65},{"s":"d","t":31.75,"v":0.45},{"s":"d","t":32.75,"v":0.38},{"s":"d","t":33.5,"v":0.2},{"s":"d","t":34,"v":0.1},{"s":"d","t":34.75,"v":0.12},{"s":"d","t":35.5,"v":0.2},{"s":"d","t":36.5,"v":0.25},{"s":"d","t":37.25,"v":0.28},{"s":"d","t":38.25,"v":0.3},{"s":"d","t":39.75,"v":0.27},{"s":"d","t":41,"v":0.23},{"s":"d","t":42,"v":0.2},{"s":"d","t":42.5,"v":0.18},{"s":"d","t":43,"v":0.25},
{"s":"n","t":0,"v":0.40},{"s":"n","t":0.75,"v":0.34},{"s":"n","t":1.75,"v":0.37},{"s":"n","t":2.5,"v":0.30},{"s":"n","t":3.0,"v":0.38},{"s":"n","t":3.5,"v":0.97},{"s":"n","t":4.0,"v":0.60},{"s":"n","t":4.5,"v":0.34},{"s":"n","t":5.0,"v":0.55},{"s":"n","t":5.4,"v":0.3},{"s":"n","t":5.8,"v":0.8},{"s":"n","t":6.2,"v":0.4},{"s":"n","t":6.6,"v":0.85},{"s":"n","t":7.0,"v":0.5},{"s":"n","t":7.4,"v":0.82},{"s":"n","t":7.8,"v":0.45},{"s":"n","t":8.2,"v":0.75},{"s":"n","t":8.75,"v":1.31},{"s":"n","t":9.1,"v":0.8},{"s":"n","t":9.5,"v":0.5},{"s":"n","t":9.9,"v":0.7},{"s":"n","t":10.3,"v":0.35},{"s":"n","t":10.7,"v":0.6},{"s":"n","t":11.1,"v":0.4},{"s":"n","t":11.5,"v":0.55},{"s":"n","t":11.9,"v":0.3},{"s":"n","t":12.25,"v":0.2},{"s":"n","t":12.6,"v":0.75},{"s":"n","t":13.0,"v":0.3},{"s":"n","t":13.4,"v":0.6},{"s":"n","t":13.8,"v":0.4},{"s":"n","t":14.25,"v":0.94},{"s":"n","t":14.7,"v":0.6},{"s":"n","t":15.25,"v":1.01},{"s":"n","t":15.7,"v":0.7},{"s":"n","t":16.1,"v":0.85},{"s":"n","t":16.5,"v":0.45},{"s":"n","t":17.0,"v":0.6},{"s":"n","t":17.4,"v":0.35},{"s":"n","t":17.9,"v":0.5},{"s":"n","t":18.3,"v":0.3},{"s":"n","t":18.75,"v":0.2},{"s":"n","t":19.2,"v":0.55},{"s":"n","t":19.6,"v":0.75},{"s":"n","t":20.25,"v":1.0},{"s":"n","t":20.75,"v":1.07},{"s":"n","t":21.25,"v":1.11},{"s":"n","t":21.6,"v":2.21},{"s":"n","t":22.0,"v":1.61},{"s":"n","t":22.5,"v":1.28},{"s":"n","t":23.0,"v":1.14},{"s":"n","t":23.75,"v":1.31},{"s":"n","t":24.25,"v":0.87},{"s":"n","t":25.0,"v":0.6},{"s":"n","t":25.5,"v":0.45},{"s":"n","t":25.9,"v":0.55},{"s":"n","t":26.3,"v":0.3},{"s":"n","t":26.8,"v":0.4},{"s":"n","t":27.3,"v":0.25},{"s":"n","t":27.8,"v":0.35},{"s":"n","t":28.3,"v":0.2},{"s":"n","t":28.8,"v":0.3},{"s":"n","t":29.5,"v":0.84},{"s":"n","t":30.0,"v":0.55},{"s":"n","t":30.5,"v":0.34},{"s":"n","t":31.0,"v":0.4},{"s":"n","t":31.6,"v":0.3},{"s":"n","t":32.2,"v":0.4},{"s":"n","t":32.8,"v":0.45},{"s":"n","t":33.3,"v":0.35},{"s":"n","t":34.25,"v":0.23},{"s":"n","t":34.9,"v":0.22},{"s":"n","t":36.25,"v":0.30},{"s":"n","t":37.75,"v":0.34},{"s":"n","t":38.6,"v":0.32},{"s":"n","t":40.25,"v":0.27},{"s":"n","t":41.75,"v":0.20},{"s":"n","t":42.5,"v":0.25},{"s":"n","t":43.0,"v":0.50},
{"s":"k","t":0,"v":0.34},{"s":"k","t":1.25,"v":0.54},{"s":"k","t":2.75,"v":0.77},{"s":"k","t":3.75,"v":0.84},{"s":"k","t":4.5,"v":0.81},{"s":"k","t":5.25,"v":0.60},{"s":"k","t":5.75,"v":0.34},{"s":"k","t":6.5,"v":0.67},{"s":"k","t":7.25,"v":0.74},{"s":"k","t":8,"v":0.81},{"s":"k","t":8.5,"v":1.14},{"s":"k","t":9,"v":1.07},{"s":"k","t":9.75,"v":1.04},{"s":"k","t":10.75,"v":0.91},{"s":"k","t":11.75,"v":0.94},{"s":"k","t":12.5,"v":1.14},{"s":"k","t":13.25,"v":1.28},{"s":"k","t":14.25,"v":1.68},{"s":"k","t":14.75,"v":1.71},{"s":"k","t":15.5,"v":1.54},{"s":"k","t":16.25,"v":1.28},{"s":"k","t":17.25,"v":0.87},{"s":"k","t":17.75,"v":1.07},{"s":"k","t":18.25,"v":1.61},{"s":"k","t":19,"v":1.91},{"s":"k","t":19.5,"v":1.95},{"s":"k","t":20,"v":1.88},{"s":"k","t":20.5,"v":1.61},{"s":"k","t":21,"v":1.54},{"s":"k","t":21.5,"v":1.54},{"s":"k","t":21.75,"v":1.41},{"s":"k","t":22.25,"v":1.28},{"s":"k","t":23,"v":1.01},{"s":"k","t":24,"v":0.87},{"s":"k","t":25,"v":0.70},{"s":"k","t":25.75,"v":0.60},{"s":"k","t":26.5,"v":0.47},{"s":"k","t":27.25,"v":0.34},{"s":"k","t":28,"v":0.20},{"s":"k","t":28.5,"v":0.28},{"s":"k","t":29.25,"v":0.94},{"s":"k","t":29.75,"v":1.28},{"s":"k","t":30.25,"v":1.17},{"s":"k","t":31,"v":0.67},{"s":"k","t":31.75,"v":0.47},{"s":"k","t":32.75,"v":0.40},{"s":"k","t":33.5,"v":0.20},{"s":"k","t":34,"v":0.10},{"s":"k","t":34.75,"v":0.13},{"s":"k","t":35.5,"v":0.27},{"s":"k","t":36.5,"v":0.40},{"s":"k","t":37.25,"v":0.47},{"s":"k","t":38.25,"v":0.44},{"s":"k","t":39.75,"v":0.34},{"s":"k","t":41,"v":0.27},{"s":"k","t":42,"v":0.20},{"s":"k","t":42.5,"v":0.17},{"s":"k","t":43,"v":0.27}
]
},
"columns":2,
"spacing":{"row":27,"column":29},
"bounds":"flush",
"concat":[
{"width":294,"height":346,"layer":[
{"data":{"values":[{"x1":-2.3,"x2":2.3,"y1":1,"y2":8}]},"mark":{"type":"rect","color":"#a6a6a6"},"encoding":{"x":{"field":"x1","type":"quantitative","scale":{"domain":[-3.5,3.95],"nice":false,"zero":false},"axis":{"values":[-3,-2,-1,0,1,2,3],"labelExpr":"datum.value < 0 ? '− ' + (-datum.value) : '' + datum.value","title":"x,m","titleX":293,"titleY":10.5,"titleAlign":"right","titleBaseline":"alphabetic"}},"x2":{"field":"x2"},"y":{"field":"y1","type":"quantitative","scale":{"domain":[0,8.8],"nice":false},"axis":{"values":[0,1,2,3,4,5,6,7,8],"tickCount":12,"title":"y,m","titleAngle":0,"titleX":-4,"titleY":0,"titleAlign":"right","titleBaseline":"middle"}},"y2":{"field":"y2"}}},
{"data":{"name":"tl"},"transform":[{"filter":"datum.s=='1'"}],"mark":{"type":"line","strokeDash":[2,2],"strokeWidth":1.1,"color":"black"},"encoding":{"x":{"field":"x","type":"quantitative"},"y":{"field":"y","type":"quantitative"},"order":{"value":null}}},
{"data":{"name":"tl"},"transform":[{"filter":"datum.s=='2'"}],"mark":{"type":"line","strokeWidth":1,"color":"black"},"encoding":{"x":{"field":"x","type":"quantitative"},"y":{"field":"y","type":"quantitative"},"order":{"value":null}}},
{"data":{"name":"tl"},"transform":[{"filter":"datum.s=='3'"}],"mark":{"type":"line","strokeWidth":2.6,"color":"black"},"encoding":{"x":{"field":"x","type":"quantitative"},"y":{"field":"y","type":"quantitative"},"order":{"value":null}}},
{"data":{"values":[{}]},"mark":{"type":"rule","strokeDash":[2,2],"strokeWidth":1.1,"color":"black"},"encoding":{"x":{"datum":-0.37},"x2":{"datum":0.6},"y":{"datum":4.86}}},
{"data":{"values":[{}]},"mark":{"type":"rule","strokeWidth":1,"color":"black"},"encoding":{"x":{"datum":-0.37},"x2":{"datum":0.6},"y":{"datum":4.42}}},
{"data":{"values":[{}]},"mark":{"type":"rule","strokeWidth":2.6,"color":"black"},"encoding":{"x":{"datum":-0.37},"x2":{"datum":0.6},"y":{"datum":3.97}}},
{"data":{"values":[{"s":"1","ly":4.86},{"s":"2","ly":4.42},{"s":"3","ly":3.97}]},"mark":{"type":"text","font":"Open Sans","fontSize":14,"color":"#404040","align":"center","baseline":"middle"},"encoding":{"x":{"datum":-0.71},"y":{"field":"ly","type":"quantitative"},"text":{"field":"s"}}},
{"data":{"values":[{}]},"mark":{"type":"point","shape":"triangle-right","filled":true,"size":60,"color":"#404040","opacity":1},"encoding":{"x":{"datum":3.85},"y":{"datum":0}}},
{"data":{"values":[{}]},"mark":{"type":"point","shape":"triangle-up","filled":true,"size":60,"color":"#404040","opacity":1},"encoding":{"x":{"datum":-3.5},"y":{"datum":8.7}}}
]},
{"width":292,"height":346,"layer":[
{"data":{"values":[{"x1":-2.3,"x2":2.3,"y1":1,"y2":8}]},"mark":{"type":"rect","color":"#a6a6a6"},"encoding":{"x":{"field":"x1","type":"quantitative","scale":{"domain":[-3.45,3.96],"nice":false,"zero":false},"axis":{"values":[-3,-2,-1,0,1,2,3],"labelExpr":"datum.value < 0 ? '− ' + (-datum.value) : '' + datum.value","title":"x,m","titleX":292,"titleY":10.5,"titleAlign":"right","titleBaseline":"alphabetic"}},"x2":{"field":"x2"},"y":{"field":"y1","type":"quantitative","scale":{"domain":[0,8.8],"nice":false},"axis":{"values":[0,1,2,3,4,5,6,7,8],"tickCount":12,"title":"y,m","titleAngle":0,"titleX":-4,"titleY":0,"titleAlign":"right","titleBaseline":"middle"}},"y2":{"field":"y2"}}},
{"data":{"name":"tr"},"transform":[{"filter":"datum.s=='4'"}],"mark":{"type":"line","strokeDash":[2,2],"strokeWidth":1.1,"color":"black"},"encoding":{"x":{"field":"x","type":"quantitative"},"y":{"field":"y","type":"quantitative"},"order":{"value":null}}},
{"data":{"name":"tr"},"transform":[{"filter":"datum.s=='5'"}],"mark":{"type":"line","strokeWidth":1,"color":"black"},"encoding":{"x":{"field":"x","type":"quantitative"},"y":{"field":"y","type":"quantitative"},"order":{"value":null}}},
{"data":{"name":"tr"},"transform":[{"filter":"datum.s=='6'"}],"mark":{"type":"line","strokeWidth":2.6,"color":"black"},"encoding":{"x":{"field":"x","type":"quantitative"},"y":{"field":"y","type":"quantitative"},"order":{"value":null}}},
{"data":{"values":[{}]},"mark":{"type":"rule","strokeDash":[2,2],"strokeWidth":1.1,"color":"black"},"encoding":{"x":{"datum":-0.34},"x2":{"datum":0.61},"y":{"datum":4.86}}},
{"data":{"values":[{}]},"mark":{"type":"rule","strokeWidth":1,"color":"black"},"encoding":{"x":{"datum":-0.34},"x2":{"datum":0.61},"y":{"datum":4.42}}},
{"data":{"values":[{}]},"mark":{"type":"rule","strokeWidth":2.6,"color":"black"},"encoding":{"x":{"datum":-0.34},"x2":{"datum":0.61},"y":{"datum":3.97}}},
{"data":{"values":[{"s":"4","ly":4.86},{"s":"5","ly":4.42},{"s":"6","ly":3.97}]},"mark":{"type":"text","font":"Open Sans","fontSize":14,"color":"#404040","align":"center","baseline":"middle"},"encoding":{"x":{"datum":-0.65},"y":{"field":"ly","type":"quantitative"},"text":{"field":"s"}}},
{"data":{"values":[{}]},"mark":{"type":"point","shape":"triangle-right","filled":true,"size":60,"color":"#404040","opacity":1},"encoding":{"x":{"datum":3.86},"y":{"datum":0}}},
{"data":{"values":[{}]},"mark":{"type":"point","shape":"triangle-up","filled":true,"size":60,"color":"#404040","opacity":1},"encoding":{"x":{"datum":-3.45},"y":{"datum":8.7}}}
]},
{"width":292,"height":125,"layer":[
{"data":{"values":[{"a":12.6,"b":21.7,"lo":0,"hi":2.3},{"a":34.5,"b":43.6,"lo":0,"hi":2.3}]},"mark":{"type":"rect","color":"#d9d9d9"},"encoding":{"x":{"field":"a","type":"quantitative","scale":{"domain":[-0.23,44.2],"nice":false,"zero":false},"axis":{"values":[5,15,25,35],"labelFontSize":13,"labelPadding":3,"title":"t,s","titleX":288,"titleY":9,"titleAlign":"right","titleBaseline":"alphabetic","titleFontSize":13}},"x2":{"field":"b"},"y":{"field":"lo","type":"quantitative","scale":{"domain":[0,2.515],"nice":false},"axis":{"values":[0,0.5,1,1.5,2],"tickCount":10,"domain":false,"labelExpr":"'' + datum.value","labelOverlap":false,"labelFontSize":13,"title":"|Δ₂|","titleFontSize":12,"titleAngle":0,"titleX":-3,"titleY":7,"titleAlign":"right","titleBaseline":"middle"}},"y2":{"field":"hi"}}},
{"data":{"values":[{}]},"mark":{"type":"rule","color":"#404040","strokeWidth":1.3},"encoding":{"x":{"datum":-0.23},"y":{"datum":0},"y2":{"datum":2.3}}},
{"data":{"name":"d2l"},"transform":[{"filter":"datum.s=='d'"}],"mark":{"type":"line","strokeDash":[2,2],"strokeWidth":1.1,"color":"black"},"encoding":{"x":{"field":"t","type":"quantitative"},"y":{"field":"v","type":"quantitative"}}},
{"data":{"name":"d2l"},"transform":[{"filter":"datum.s=='n'"}],"mark":{"type":"line","strokeWidth":1,"color":"black"},"encoding":{"x":{"field":"t","type":"quantitative"},"y":{"field":"v","type":"quantitative"}}},
{"data":{"name":"d2l"},"transform":[{"filter":"datum.s=='k'"}],"mark":{"type":"line","strokeWidth":2.5,"color":"black"},"encoding":{"x":{"field":"t","type":"quantitative"},"y":{"field":"v","type":"quantitative"}}},
{"data":{"values":[{}]},"mark":{"type":"point","shape":"triangle-right","filled":true,"size":60,"color":"#404040","opacity":1},"encoding":{"x":{"datum":43.6},"y":{"datum":0}}},
{"data":{"values":[{}]},"mark":{"type":"point","shape":"triangle-up","filled":true,"size":60,"color":"#404040","opacity":1},"encoding":{"x":{"datum":-0.23},"y":{"datum":2.29}}}
]},
{"width":294,"height":125,"layer":[
{"data":{"values":[{"a":12.8,"b":21.6,"lo":0,"hi":2.3},{"a":34.3,"b":43.1,"lo":0,"hi":2.3}]},"mark":{"type":"rect","color":"#d9d9d9"},"encoding":{"x":{"field":"a","type":"quantitative","scale":{"domain":[0.1,43.9],"nice":false,"zero":false},"axis":{"values":[5,15,25,35],"labelFontSize":13,"labelPadding":3,"title":"t,s","titleX":290,"titleY":9,"titleAlign":"right","titleBaseline":"alphabetic","titleFontSize":13}},"x2":{"field":"b"},"y":{"field":"lo","type":"quantitative","scale":{"domain":[0,2.515],"nice":false},"axis":{"values":[0,0.5,1,1.5,2],"tickCount":10,"domain":false,"labelExpr":"'' + datum.value","labelOverlap":false,"labelFontSize":13,"title":"|Δ₂|","titleFontSize":12,"titleAngle":0,"titleX":-3,"titleY":7,"titleAlign":"right","titleBaseline":"middle"}},"y2":{"field":"hi"}}},
{"data":{"values":[{}]},"mark":{"type":"rule","color":"#404040","strokeWidth":1.3},"encoding":{"x":{"datum":0.1},"y":{"datum":0},"y2":{"datum":2.3}}},
{"data":{"name":"d2r"},"transform":[{"filter":"datum.s=='d'"}],"mark":{"type":"line","strokeDash":[2,2],"strokeWidth":1.1,"color":"black"},"encoding":{"x":{"field":"t","type":"quantitative"},"y":{"field":"v","type":"quantitative"}}},
{"data":{"name":"d2r"},"transform":[{"filter":"datum.s=='n'"}],"mark":{"type":"line","strokeWidth":1,"color":"#222222"},"encoding":{"x":{"field":"t","type":"quantitative"},"y":{"field":"v","type":"quantitative"}}},
{"data":{"name":"d2r"},"transform":[{"filter":"datum.s=='k'"}],"mark":{"type":"line","strokeWidth":2.5,"color":"black"},"encoding":{"x":{"field":"t","type":"quantitative"},"y":{"field":"v","type":"quantitative"}}},
{"data":{"values":[{}]},"mark":{"type":"point","shape":"triangle-right","filled":true,"size":60,"color":"#404040","opacity":1},"encoding":{"x":{"datum":43.3},"y":{"datum":0}}},
{"data":{"values":[{}]},"mark":{"type":"point","shape":"triangle-up","filled":true,"size":60,"color":"#404040","opacity":1},"encoding":{"x":{"datum":0.1},"y":{"datum":2.29}}}
]},
{"width":292,"height":118,"layer":[
{"data":{"values":[{"a":12.6,"b":21.7,"lo":0,"hi":2.25},{"a":34.5,"b":43.6,"lo":0,"hi":2.25}]},"mark":{"type":"rect","color":"#d9d9d9"},"encoding":{"x":{"field":"a","type":"quantitative","scale":{"domain":[-0.23,44.2],"nice":false,"zero":false},"axis":{"values":[5,15,25,35],"labelFontSize":13,"labelPadding":3,"title":"t,s","titleX":288,"titleY":9,"titleAlign":"right","titleBaseline":"alphabetic","titleFontSize":13}},"x2":{"field":"b"},"y":{"field":"lo","type":"quantitative","scale":{"domain":[0,2.33],"nice":false},"axis":{"values":[0,0.5,1,1.5,2],"tickCount":10,"labelExpr":"'' + datum.value","labelOverlap":false,"labelFontSize":13,"title":"|Δ₃|","titleFontSize":12,"titleAngle":0,"titleX":-3,"titleY":0,"titleAlign":"right","titleBaseline":"middle"}},"y2":{"field":"hi"}}},
{"data":{"name":"d3l"},"transform":[{"filter":"datum.s=='d'"}],"mark":{"type":"line","strokeDash":[2,2],"strokeWidth":1.1,"color":"black"},"encoding":{"x":{"field":"t","type":"quantitative"},"y":{"field":"v","type":"quantitative"}}},
{"data":{"name":"d3l"},"transform":[{"filter":"datum.s=='n'"}],"mark":{"type":"line","strokeWidth":1,"color":"black"},"encoding":{"x":{"field":"t","type":"quantitative"},"y":{"field":"v","type":"quantitative"}}},
{"data":{"name":"d3l"},"transform":[{"filter":"datum.s=='k'"}],"mark":{"type":"line","strokeWidth":2.5,"color":"black"},"encoding":{"x":{"field":"t","type":"quantitative"},"y":{"field":"v","type":"quantitative"}}},
{"data":{"values":[{}]},"mark":{"type":"point","shape":"triangle-right","filled":true,"size":60,"color":"#404040","opacity":1},"encoding":{"x":{"datum":43.6},"y":{"datum":0}}},
{"data":{"values":[{}]},"mark":{"type":"point","shape":"triangle-up","filled":true,"size":60,"color":"#404040","opacity":1},"encoding":{"x":{"datum":-0.23},"y":{"datum":2.25}}}
]},
{"width":294,"height":118,"layer":[
{"data":{"values":[{"a":12.8,"b":21.6,"lo":0,"hi":2.28},{"a":34.3,"b":43.1,"lo":0,"hi":2.28}]},"mark":{"type":"rect","color":"#d9d9d9"},"encoding":{"x":{"field":"a","type":"quantitative","scale":{"domain":[0.1,43.9],"nice":false,"zero":false},"axis":{"values":[5,15,25,35],"labelFontSize":13,"labelPadding":3,"title":"t,s","titleX":290,"titleY":9,"titleAlign":"right","titleBaseline":"alphabetic","titleFontSize":13}},"x2":{"field":"b"},"y":{"field":"lo","type":"quantitative","scale":{"domain":[0,2.33],"nice":false},"axis":{"values":[0,0.5,1,1.5,2],"tickCount":10,"labelExpr":"'' + datum.value","labelOverlap":false,"labelFontSize":13,"title":"|Δ₃|","titleFontSize":12,"titleAngle":0,"titleX":-3,"titleY":0,"titleAlign":"right","titleBaseline":"middle"}},"y2":{"field":"hi"}}},
{"data":{"name":"d3r"},"transform":[{"filter":"datum.s=='d'"}],"mark":{"type":"line","strokeDash":[2,2],"strokeWidth":1.1,"color":"black"},"encoding":{"x":{"field":"t","type":"quantitative"},"y":{"field":"v","type":"quantitative"}}},
{"data":{"name":"d3r"},"transform":[{"filter":"datum.s=='n'"}],"mark":{"type":"line","strokeWidth":1,"color":"#222222"},"encoding":{"x":{"field":"t","type":"quantitative"},"y":{"field":"v","type":"quantitative"}}},
{"data":{"name":"d3r"},"transform":[{"filter":"datum.s=='k'"}],"mark":{"type":"line","strokeWidth":2.5,"color":"black"},"encoding":{"x":{"field":"t","type":"quantitative"},"y":{"field":"v","type":"quantitative"}}},
{"data":{"values":[{}]},"mark":{"type":"point","shape":"triangle-right","filled":true,"size":60,"color":"#404040","opacity":1},"encoding":{"x":{"datum":43.3},"y":{"datum":0}}},
{"data":{"values":[{}]},"mark":{"type":"point","shape":"triangle-up","filled":true,"size":60,"color":"#404040","opacity":1},"encoding":{"x":{"datum":0.1},"y":{"datum":2.25}}}
]}
]
}
